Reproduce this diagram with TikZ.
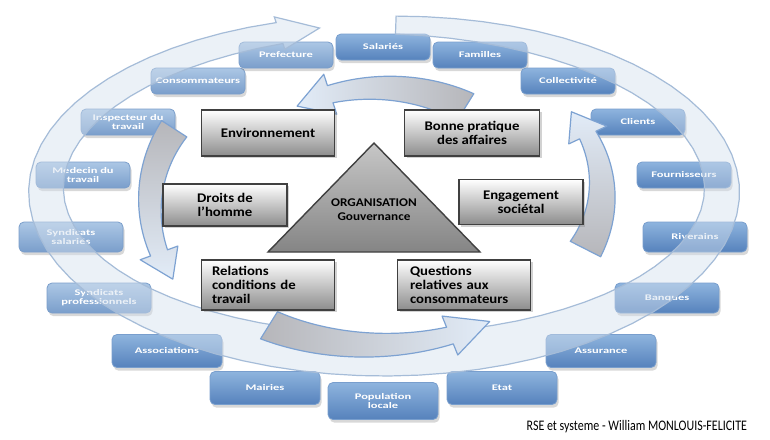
\documentclass[tikz,border=0pt]{standalone}
\usepackage{fontspec}
\setmainfont{Carlito}[FakeStretch=1.12]
\newfontfamily\stakefont{Carlito}[FakeStretch=1.45]
\newfontfamily\creditfont{Carlito}[FakeStretch=0.82]
\usetikzlibrary{shadows}

\definecolor{stakeTop}{RGB}{142,180,222}
\definecolor{stakeBot}{RGB}{86,130,188}
\definecolor{stakeLine}{RGB}{120,158,205}
\definecolor{paleTop}{RGB}{172,199,229}
\definecolor{paleBot}{RGB}{122,158,203}
\definecolor{ringFill}{RGB}{212,224,238}
\definecolor{ringLine}{RGB}{165,188,216}
\definecolor{arrowLine}{RGB}{125,162,210}
\definecolor{arrowHead}{RGB}{226,236,248}
\definecolor{arrowTail}{RGB}{182,182,186}

% band along an ellipse round the current origin, ending in a head
% #1 style, #2 #3 radii, #4 tail angle, #5 head angle,
% #6 #7 half width at tail and neck, #8 half width of head, #9 tip angle
\newcommand{\ringbulge}{0}
\newcommand{\curvedarrow}[9]{%
  \def\hw{(#6+(#7-#6)*((\x-(#4))/((#5)-(#4)))+\ringbulge*sin(((\x-(#4))/((#5)-(#4)))*180))}%
  \draw[#1] plot[domain=#4:#5,samples=72] ({(#2+\hw)*cos(\x)},{(#3+\hw)*sin(\x)})
    -- ({(#2+#8)*cos(#5)},{(#3+#8)*sin(#5)})
    -- ({#2*cos(#5+(#9))},{#3*sin(#5+(#9))})
    -- ({(#2-#8)*cos(#5)},{(#3-#8)*sin(#5)})
    -- plot[domain=#5:#4,samples=72] ({(#2-\hw)*cos(\x)},{(#3-\hw)*sin(\x)})
    -- cycle;}

\begin{document}
\begin{tikzpicture}[x=0.5pt,y=-0.5pt,
    stake/.style={draw=stakeLine, line width=.4pt, rounded corners=2.5pt,
        top color=stakeTop, bottom color=stakeBot, text=white, align=center,
        font=\stakefont\bfseries\fontsize{4.3}{4.6}\selectfont,
        minimum width=47pt, minimum height=13pt, inner sep=1pt,
        drop shadow={opacity=.3, shadow xshift=.8pt, shadow yshift=-1.6pt}},
    palestake/.style={stake, top color=paleTop, bottom color=paleBot, draw=paleBot},
    widestake/.style={minimum width=52pt, minimum height=15pt},
    bigstake/.style={minimum width=55pt, minimum height=16.5pt},
    theme/.style={draw=black!75, line width=.7pt, top color=white, bottom color=black!45,
        font=\bfseries\fontsize{6.6}{7.2}\selectfont, align=center,
        minimum width=66.5pt, minimum height=23pt, inner sep=1pt,
        drop shadow={opacity=.35, shadow xshift=1pt, shadow yshift=-1.2pt}},
    ring/.style={draw=ringLine, line width=.6pt, fill=ringFill, fill opacity=.45},
    inner/.style={draw=arrowLine, line width=.6pt, line join=round},
    pyramid/.style={draw=black!75, line width=.7pt, top color=black!22, bottom color=black!48},
    orgtext/.style={font=\bfseries\fontsize{5.9}{7}\selectfont, align=center}]

\path[use as bounding box, fill=white] (0,0) rectangle (770,439);

% stakeholders
\node[stake] (sal) at (383,47) {Salariés};
\node[stake] (fam) at (480,55) {Familles};
\node[stake] (coll) at (568,81) {Collectivité};
\node[stake] (cli) at (638,122) {Clients};
\node[stake] (four) at (684,175) {Fournisseurs};
\node[stake, widestake] (riv) at (695,237) {Riverains};
\node[stake, widestake] (banq) at (667,298) {Banques};
\node[stake, bigstake] (assu) at (601,351) {Assurance};
\node[stake, bigstake] (etat) at (502,388) {Etat};
\node[stake, bigstake, minimum height=18.5pt] (pop) at (383,401) {Population\\locale};
\node[stake, bigstake] (mair) at (265,388) {Mairies};
\node[stake, bigstake] (asso) at (167,351) {Associations};
\node[palestake, widestake] (sprof) at (99,298) {Syndicats\\professionnels};
\node[palestake, widestake] (ssal) at (71,237) {Syndicats\\salariés};
\node[palestake] (med) at (83,175) {Medecin du\\travail};
\node[palestake] (insp) at (128,122) {Inspecteur du\\travail};
\node[palestake] (cons) at (198,81) {Consommateurs};
\node[palestake] (pref) at (286,55) {Prefecture};

% outer cycle
\begin{scope}[shift={(384,190)}]
  \renewcommand{\ringbulge}{11}
  \curvedarrow{ring}{338}{165}{-88}{252}{9}{11}{17}{7}
\end{scope}

% inner cycle
\begin{scope}[shift={(380,215)}]
  \curvedarrow{inner, left color=arrowHead, right color=arrowTail}{161}{127}{-58}{-108}{16}{9}{21}{-13}
\end{scope}
\begin{scope}[shift={(300,205)}]
  \curvedarrow{inner, top color=arrowTail, bottom color=arrowHead}{150}{140}{213}{160}{15}{9}{20}{-12}
\end{scope}
\begin{scope}[shift={(375,215)}]
  \curvedarrow{inner, left color=arrowTail, right color=arrowHead}{200}{130}{122}{68}{16}{9}{21}{-13}
\end{scope}
\begin{scope}[shift={(450,190)}]
  \curvedarrow{inner, top color=arrowHead, bottom color=arrowTail}{152}{130}{27}{-25}{17}{9}{21}{-12}
\end{scope}

% themes
\node[theme] (env) at (268,133) {Environnement};
\node[theme, minimum width=67.5pt] (bpa) at (472,133) {Bonne pratique\\des affaires};
\node[theme, minimum width=62pt, minimum height=21pt] (dh) at (225,205) {Droits de\\l’homme};
\node[theme, minimum width=62pt, minimum height=22.5pt] (eng) at (521,202) {Engagement\\sociétal};
\node[theme, minimum height=25pt, text width=56pt, align=left] (rel) at (268,285) {Relations\\conditions de\\travail};
\node[theme, minimum height=25pt, text width=54pt, align=left] (qrc) at (464,285) {Questions\\relatives aux\\consommateurs};

\coordinate (apex) at (374,143);
\coordinate (baseL) at (268,252);
\coordinate (baseR) at (480,252);
\draw[pyramid] (apex) -- (baseL) -- (baseR) -- cycle;
\node[orgtext] (org) at (374,210) {ORGANISATION\\Gouvernance};

\node[anchor=east, font=\creditfont\fontsize{7.3}{8}\selectfont] (credit) at (754,427)
    {RSE et systeme - William MONLOUIS-FELICITE};

\end{tikzpicture}
\end{document}
